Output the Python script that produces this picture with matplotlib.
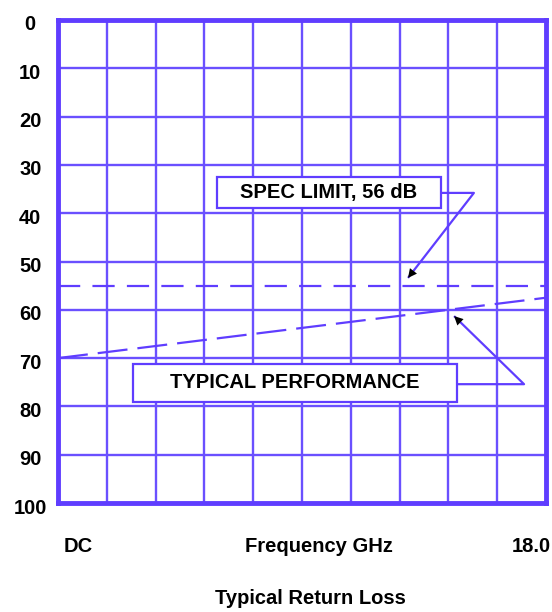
import matplotlib
matplotlib.use("Agg")
import matplotlib.pyplot as plt
import matplotlib.transforms as mtransforms
import numpy as np

# Data
freq_range = [0.0, 18.0]           # GHz (DC .. 18.0)
spec_limit = [55.0, 55.0]          # dB, dashed spec line
typical = [70.0, 57.5]             # dB, typical performance line
y_ticks = [0, 10, 20, 30, 40, 50, 60, 70, 80, 90, 100]
x_grid = list(np.linspace(0, 18, 11))

BLUE = "#5f3dff"
GRID = "#6a50ff"
FONT = ["Liberation Sans", "DejaVu Sans"]
FS = 14.5

fig = plt.figure(figsize=(5.52, 6.12), dpi=100)
ax = fig.add_axes([58/552, 1-503/612, (546-58)/552, (503-20)/612])
ax.set_xlim(freq_range)
ax.set_ylim(100, 0)

for x in x_grid[1:-1]:
    ax.axvline(x, color=GRID, lw=1.7, zorder=1)
for y in y_ticks[1:-1]:
    ax.axhline(y, color=GRID, lw=1.7, zorder=1)

for s in ax.spines.values():
    s.set_color(BLUE)
    s.set_linewidth(3.5)

ax.set_xticks([])
ax.set_yticks(y_ticks)
ax.set_yticklabels([str(v) for v in y_ticks], fontfamily=FONT,
                   fontweight="bold", fontsize=FS, ha="center")
ax.tick_params(axis="y", length=0, pad=20)
offset = mtransforms.ScaledTranslation(0, -3/100, fig.dpi_scale_trans)
for lab in ax.get_yticklabels():
    lab.set_transform(lab.get_transform() + offset)

ax.plot(freq_range, spec_limit, color=BLUE, lw=1.6, dashes=(10, 5.5), zorder=3)
ax.plot(freq_range, typical, color=BLUE, lw=1.6, dashes=(13.5, 4.5), zorder=3)

def label_box(x0, x1, y0, y1, text):
    ax.add_patch(plt.Rectangle((x0, y0), x1 - x0, y1 - y0, facecolor="white",
                               edgecolor=BLUE, lw=1.6, zorder=4))
    ax.text((x0 + x1) / 2, (y0 + y1) / 2, text, ha="center", va="center",
            fontfamily=FONT, fontweight="bold", fontsize=FS, zorder=5)

def pointer(xs, ys):
    ax.plot(xs, ys, color=BLUE, lw=1.6, zorder=4, solid_capstyle="butt")
    dx, dy = xs[-1] - xs[-2], ys[-1] - ys[-2]
    t = 0.12
    ax.annotate("", xy=(xs[-1], ys[-1]), xytext=(xs[-1] - dx * t, ys[-1] - dy * t),
                arrowprops=dict(arrowstyle="-|>", color="black", lw=0,
                                mutation_scale=16, shrinkA=0, shrinkB=0), zorder=6)

label_box(5.865, 14.13, 32.5, 38.9, "SPEC LIMIT, 56 dB")
pointer([14.13, 15.34, 12.91], [35.8, 35.8, 53.4])

label_box(2.77, 14.72, 71.2, 79.1, "TYPICAL PERFORMANCE")
pointer([14.72, 17.19, 14.61], [75.4, 75.4, 61.3])

fig.text(78.5/552, 1-546/612, "DC", ha="center", va="center",
         fontfamily=FONT, fontweight="bold", fontsize=FS)
fig.text(319/552, 1-546/612, "Frequency GHz", ha="center", va="center",
         fontfamily=FONT, fontweight="bold", fontsize=FS)
fig.text(531/552, 1-546/612, "18.0", ha="center", va="center",
         fontfamily=FONT, fontweight="bold", fontsize=FS)
fig.text(310/552, 1-598/612, "Typical Return Loss", ha="center", va="center",
         fontfamily=FONT, fontweight="bold", fontsize=FS)

fig.savefig("out.png", dpi=100)
